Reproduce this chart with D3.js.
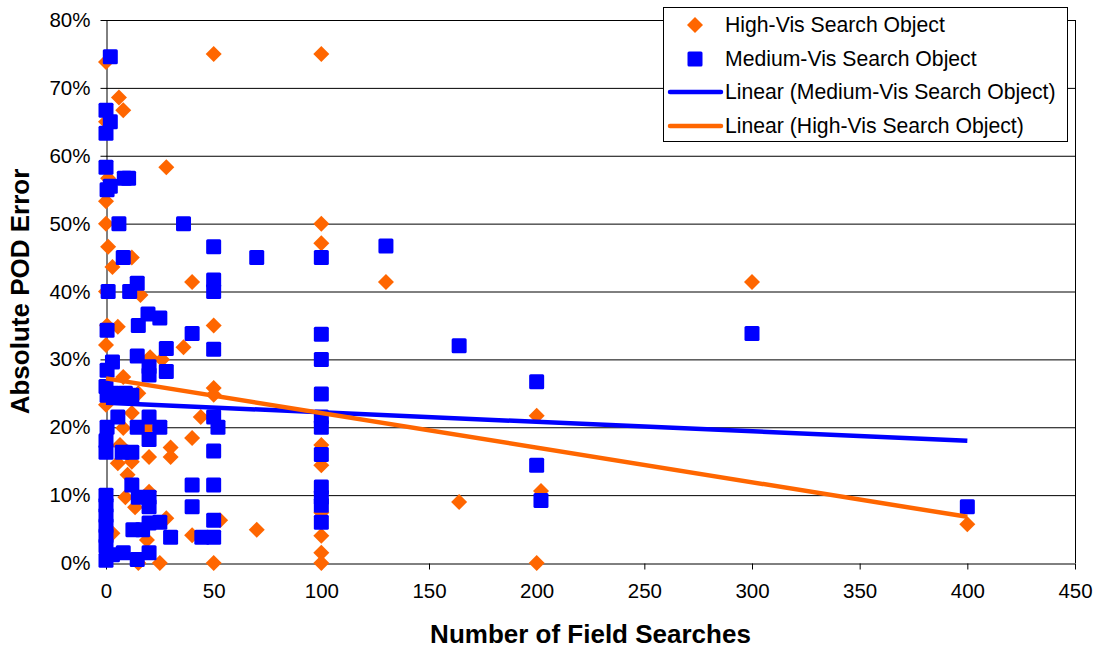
<!DOCTYPE html>
<html><head><meta charset="utf-8">
<script src="https://cdn.jsdelivr.net/npm/d3@7"></script>
<style>body{margin:0;background:#fff}svg{display:block}text{font-family:"Liberation Sans",Arial,sans-serif}</style>
</head><body>
<script>
const xTicks = [0,50,100,150,200,250,300,350,400,450];
const yTicks = [0,10,20,30,40,50,60,70,80];
const highX = [50,100,0,6,8,0,28,1,0,0,1,12,3,40,100,100,130,300,0,16,0.5,5.5,50,0,36,20.5,26,8,50,50,0,15,12,8,19.5,44,40,6.5,30,30,20,12,5.5,10,100,100,100,100,100,100,200,202,200,164,400,70,50,25,15,53,40,28,19,9,13.5,3,20];
const highY = [75,75,73.8,68.6,66.7,65,58.3,56.7,53.3,50,46.6,45,43.6,41.4,50,47.1,41.4,41.4,40,39.5,35,34.8,35,32.1,31.8,30.3,30,27.4,25.8,24.8,23.3,25,22.1,19.9,19.9,21.5,18.4,17.4,17,15.6,15.6,14.9,14.7,13,17.4,14.4,7.4,4,1.5,0,21.7,10.6,0,9,5.7,4.9,0,0,0,6.3,4.1,6.6,3.4,9.7,8.2,4.4,10.5];
const medX = [2,0,2,0,0,8.5,10.5,0.5,2,6,36,50,70,100,130,8,50,50,14.5,1,11,19.5,25,15,0.5,40,28,50,14.5,3,0.5,20,20,28,0,0.5,3,6,9,12,5.5,20,14.5,25,20,0.5,50,52,0,0,7.5,12,50,12,15,20,20,40,50,40,0,0,0,0,0,0,50,12.5,17,20,25,30,44.5,50,0,8,14.5,20,3,100,100,100,100,100,100,100,100,100,100,164,200,200,202,300,400];
const medY = [74.6,66.7,65,63.3,58.3,56.7,56.7,55,55.5,50,50,46.6,45,45,46.7,45,41.7,40,41.2,40,40,36.7,36.1,35,34.3,33.8,31.6,31.5,30.5,29.6,28.4,28.9,27.7,28.2,26,24.7,25,24.7,25,24.7,21.5,21.5,20,20,18.2,20,21.5,20,18,16.3,16.3,16.3,16.5,11.5,9.7,9.7,8.3,11.5,11.5,8.3,10,8.5,7,5.5,4,2.5,6.3,4.9,4.9,5.9,6,3.8,3.8,3.8,0.4,1.5,0.5,1.5,1.2,33.7,30,24.9,21.5,20,16,11.2,9.7,8.5,6,32,26.7,14.4,9.2,33.8,8.3];
const trendMedX = [0,400], trendMedY = [23.6,18.0];
const trendHighX = [0,400], trendHighY = [27.2,6.8];
const legendLabels = ["High-Vis Search Object","Medium-Vis Search Object","Linear (Medium-Vis Search Object)","Linear (High-Vis Search Object)"];

const W=1096,H=650, L=106,R=1075,T=20,B=563;
const ORANGE="#FF6600", BLUE="#0000FF";
const svg=d3.select("body").append("svg").attr("width",W).attr("height",H);
const x=d3.scaleLinear().domain([0,450]).range([L,R]);
const y=d3.scaleLinear().domain([0,80]).range([B,T]);

svg.append("g").selectAll("line").data(yTicks.filter(d=>d>0)).join("line")
  .attr("x1",L).attr("x2",R).attr("y1",d=>y(d)+0.5).attr("y2",d=>y(d)+0.5)
  .attr("stroke","#000").attr("stroke-width",1);
svg.append("line").attr("x1",R+0.5).attr("x2",R+0.5).attr("y1",T).attr("y2",B).attr("stroke","#000");

const xAxis=svg.append("g").attr("transform",`translate(0,${B+0.5})`)
  .call(d3.axisBottom(x).tickValues(xTicks).tickSize(6).tickSizeOuter(0).tickPadding(14));
const yAxis=svg.append("g").attr("transform",`translate(${L+0.5},0)`)
  .call(d3.axisLeft(y).tickValues(yTicks).tickSize(6).tickSizeOuter(0).tickPadding(10).tickFormat(d=>d+"%"));
[xAxis,yAxis].forEach(g=>{g.selectAll("text").attr("font-size",20.5).attr("fill","#000").attr("font-family","'Liberation Sans',Arial,sans-serif");
  g.selectAll("path,line").attr("stroke","#000");});
xAxis.selectAll("text").attr("dy","0.71em");

const high=highX.map((v,i)=>({x:v,y:highY[i]}));
const med=medX.map((v,i)=>({x:v,y:medY[i]}));
svg.append("g").selectAll("path").data(high).join("path")
  .attr("d","M0,-8L8,0L0,8L-8,0Z")
  .attr("transform",d=>`translate(${x(d.x)},${y(d.y)})`).attr("fill",ORANGE);
svg.append("g").selectAll("rect").data(med).join("rect")
  .attr("x",d=>x(d.x)-7.5).attr("y",d=>y(d.y)-7.5).attr("width",15).attr("height",15).attr("rx",1.5)
  .attr("fill",BLUE);

const line=d3.line().x(d=>x(d[0])).y(d=>y(d[1]));
svg.append("path").attr("d",line(trendMedX.map((v,i)=>[v,trendMedY[i]]))).attr("stroke",BLUE).attr("stroke-width",4.5).attr("fill","none");
svg.append("path").attr("d",line(trendHighX.map((v,i)=>[v,trendHighY[i]]))).attr("stroke",ORANGE).attr("stroke-width",4.5).attr("fill","none");

svg.append("text").attr("x",(L+R)/2).attr("y",643).attr("text-anchor","middle").attr("font-weight","bold").attr("font-size",26).text("Number of Field Searches");
svg.append("text").attr("transform",`translate(29,${(T+B)/2}) rotate(-90)`).attr("text-anchor","middle").attr("font-weight","bold").attr("font-size",26).text("Absolute POD Error");

const lg=svg.append("g");
lg.append("rect").attr("x",663.5).attr("y",7.5).attr("width",404).attr("height",134).attr("fill","#fff").attr("stroke","#000");
const ly=[25,59,92,126];
legendLabels.forEach((t,i)=>{
  lg.append("text").attr("x",725).attr("y",ly[i]).attr("dy","0.35em").attr("font-size",21.2).text(t);
});
lg.append("path").attr("d","M0,-8L8,0L0,8L-8,0Z").attr("transform",`translate(695,${ly[0]})`).attr("fill",ORANGE);
lg.append("rect").attr("x",695-7.5).attr("y",ly[1]-7.5).attr("width",15).attr("height",15).attr("rx",1.5).attr("fill",BLUE);
lg.append("line").attr("x1",670).attr("x2",721).attr("y1",ly[2]).attr("y2",ly[2]).attr("stroke",BLUE).attr("stroke-width",4.5).attr("stroke-linecap","round");
lg.append("line").attr("x1",670).attr("x2",721).attr("y1",ly[3]).attr("y2",ly[3]).attr("stroke",ORANGE).attr("stroke-width",4.5).attr("stroke-linecap","round");
</script>
</body></html>
